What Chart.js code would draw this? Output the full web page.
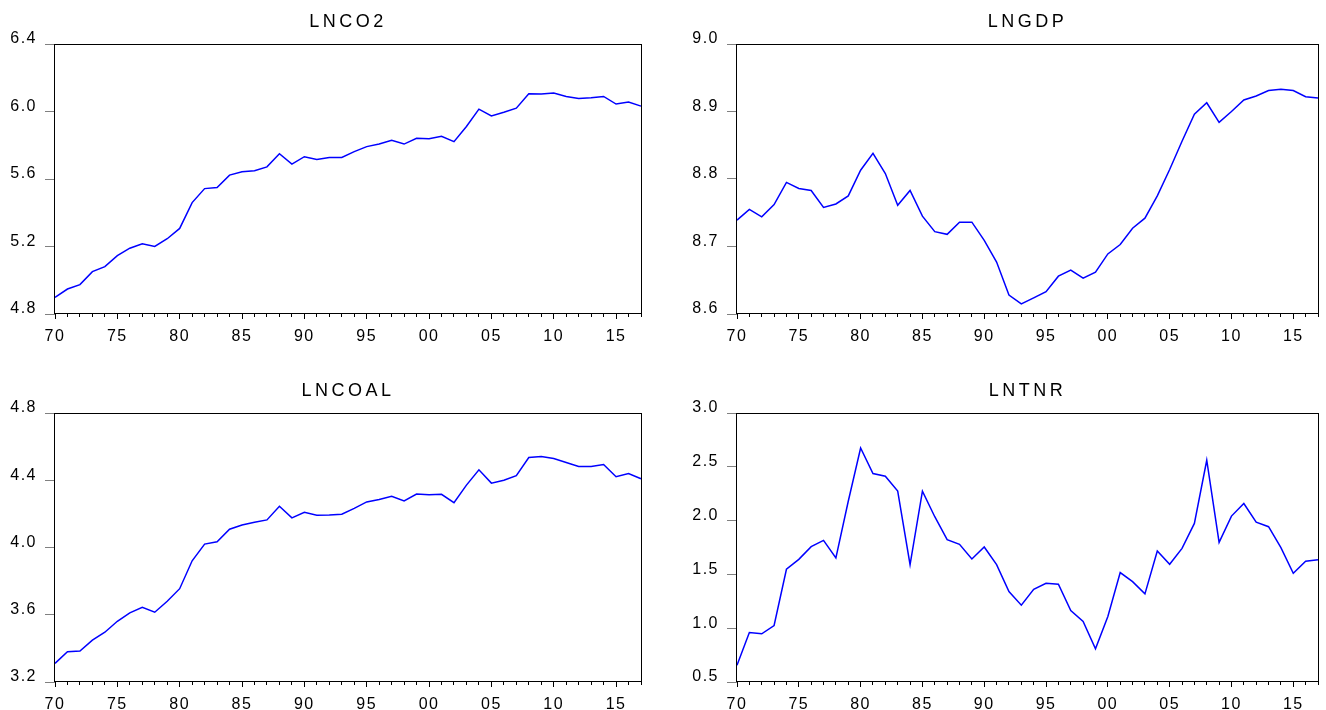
<!DOCTYPE html>
<html>
<head>
<meta charset="utf-8">
<script src="https://cdn.jsdelivr.net/npm/chart.js@4.4.1/dist/chart.umd.min.js"></script>
<style>
  html, body { margin: 0; padding: 0; background: #fff; }
  body { width: 1326px; height: 710px; position: relative; overflow: hidden; }
  canvas { position: absolute; }
</style>
</head>
<body>
<canvas id="chartLnco2" width="660" height="355" style="left:0;top:0"></canvas>
<canvas id="chartLngdp" width="644" height="355" style="left:682px;top:0"></canvas>
<canvas id="chartLncoal" width="660" height="341" style="left:0;top:369px"></canvas>
<canvas id="chartLntnr" width="644" height="341" style="left:682px;top:369px"></canvas>
<script>
const YEARS = [
  1970, 1971, 1972, 1973, 1974, 1975, 1976, 1977, 1978, 1979,
  1980, 1981, 1982, 1983, 1984, 1985, 1986, 1987, 1988, 1989,
  1990, 1991, 1992, 1993, 1994, 1995, 1996, 1997, 1998, 1999,
  2000, 2001, 2002, 2003, 2004, 2005, 2006, 2007, 2008, 2009,
  2010, 2011, 2012, 2013, 2014, 2015, 2016, 2017,
];

const LNCO2 = [
  4.898, 4.948, 4.974, 5.051, 5.081, 5.146, 5.190, 5.216, 5.200, 5.246,
  5.307, 5.460, 5.543, 5.549, 5.623, 5.643, 5.649, 5.672, 5.750, 5.688,
  5.732, 5.716, 5.728, 5.728, 5.762, 5.792, 5.807, 5.829, 5.807, 5.841,
  5.839, 5.853, 5.821, 5.911, 6.014, 5.974, 5.996, 6.020, 6.105, 6.103,
  6.109, 6.089, 6.077, 6.081, 6.089, 6.044, 6.056, 6.032,
];

const LNGDP = [
  8.739, 8.755, 8.744, 8.762, 8.795, 8.786, 8.783, 8.758, 8.763, 8.775,
  8.813, 8.838, 8.808, 8.761, 8.783, 8.745, 8.722, 8.718, 8.736, 8.736,
  8.709, 8.677, 8.628, 8.615, 8.624, 8.633, 8.656, 8.665, 8.653, 8.662,
  8.689, 8.703, 8.727, 8.742, 8.775, 8.814, 8.856, 8.896, 8.913, 8.884,
  8.900, 8.917, 8.923, 8.931, 8.933, 8.931, 8.922, 8.920,
];

const LNCOAL = [
  3.311, 3.380, 3.384, 3.449, 3.496, 3.561, 3.611, 3.644, 3.615, 3.680,
  3.755, 3.921, 4.020, 4.034, 4.109, 4.134, 4.150, 4.164, 4.245, 4.176,
  4.209, 4.192, 4.194, 4.198, 4.233, 4.271, 4.286, 4.304, 4.277, 4.318,
  4.314, 4.316, 4.267, 4.371, 4.462, 4.383, 4.400, 4.427, 4.535, 4.541,
  4.529, 4.506, 4.482, 4.482, 4.494, 4.421, 4.440, 4.409,
];

const LNTNR = [
  0.655, 0.960, 0.948, 1.025, 1.548, 1.640, 1.758, 1.816, 1.653, 2.180,
  2.675, 2.438, 2.413, 2.274, 1.591, 2.274, 2.036, 1.823, 1.779, 1.643,
  1.755, 1.591, 1.340, 1.214, 1.362, 1.418, 1.409, 1.164, 1.062, 0.809,
  1.109, 1.517, 1.433, 1.319, 1.718, 1.594, 1.742, 1.974, 2.561, 1.798,
  2.042, 2.159, 1.986, 1.943, 1.748, 1.510, 1.622, 1.637,
];

const TICKS_LNCO2 = [4.8, 5.2, 5.6, 6.0, 6.4];
const TICKS_LNGDP = [8.6, 8.7, 8.8, 8.9, 9.0];
const TICKS_LNCOAL = [3.2, 3.6, 4.0, 4.4, 4.8];
const TICKS_LNTNR = [0.5, 1.0, 1.5, 2.0, 2.5, 3.0];

const FONT_FAMILY = '"Liberation Sans", Arial, sans-serif';
const TICK_FONT = { family: FONT_FAMILY, size: 16, lineHeight: 1.2 };

// EViews look: stretched-looking text and a closed frame round the plot
const eviewsLook = {
  id: 'eviewsLook',
  beforeDraw(chart) {
    chart.ctx.letterSpacing = '3.5px';
  },
  beforeDatasetsDraw(chart) {
    chart.ctx.letterSpacing = '1.5px';
  },
  afterDraw(chart) {
    const { ctx, chartArea: a } = chart;
    ctx.save();
    ctx.strokeStyle = '#000';
    ctx.lineWidth = 1;
    ctx.strokeRect(a.left - 0.5, a.top + 0.5, a.right - a.left + 1, a.bottom - a.top - 1);
    ctx.restore();
    ctx.letterSpacing = '0px';
  },
};

function renderPanel(canvasId, title, values, yTicks, plotRight, plotBottom) {
  const canvasEl = document.getElementById(canvasId);
  return new Chart(canvasEl, {
    type: 'line',
    data: {
      labels: YEARS,
      datasets: [
        {
          data: values,
          borderColor: '#0000ff',
          borderWidth: 1.5,
          pointRadius: 0,
          tension: 0,
          fill: false,
        },
      ],
    },
    options: {
      responsive: false,
      animation: false,
      events: [],
      layout: { padding: { left: 0, top: 0, bottom: 0, right: canvasEl.width - plotRight } },
      plugins: {
        legend: { display: false },
        tooltip: { enabled: false },
        title: {
          display: true,
          text: title,
          fullSize: false,
          color: '#000',
          font: { family: FONT_FAMILY, size: 18, weight: 'normal', lineHeight: 1.2 },
          padding: { top: 11.5, bottom: 10.9 },
        },
      },
      scales: {
        x: {
          type: 'category',
          offset: false,
          border: { display: false },
          grid: {
            drawOnChartArea: false,
            tickLength: 5,
            tickColor: '#000',
            tickBorderDash: ctx => (YEARS[ctx.index] % 5 === 0 ? [] : [3, 20]),
          },
          ticks: {
            autoSkip: false,
            maxRotation: 0,
            minRotation: 0,
            padding: 8,
            color: '#000',
            font: TICK_FONT,
            z: 1,
            callback: (v, i) => (YEARS[i] % 5 === 0 ? String(YEARS[i]).slice(2) : ''),
          },
          afterFit: s => {
            s.height = canvasEl.height - plotBottom;
          },
        },
        y: {
          min: yTicks[0],
          max: yTicks[yTicks.length - 1],
          afterBuildTicks: s => {
            s.ticks = yTicks.map(v => ({ value: v }));
          },
          border: { display: false },
          grid: { drawOnChartArea: false, tickLength: 10, tickColor: '#808080' },
          ticks: {
            padding: 8,
            labelOffset: -5,
            color: '#000',
            font: TICK_FONT,
            z: 1,
            callback: v => Number(v).toFixed(1),
          },
          afterFit: s => {
            s.width = 55;
          },
        },
      },
    },
    plugins: [eviewsLook],
  });
}

renderPanel('chartLnco2', 'LNCO2', LNCO2, TICKS_LNCO2, 641, 314);
renderPanel('chartLngdp', 'LNGDP', LNGDP, TICKS_LNGDP, 639, 314);
renderPanel('chartLncoal', 'LNCOAL', LNCOAL, TICKS_LNCOAL, 641, 313);
renderPanel('chartLntnr', 'LNTNR', LNTNR, TICKS_LNTNR, 639, 313);
</script>
</body>
</html>
